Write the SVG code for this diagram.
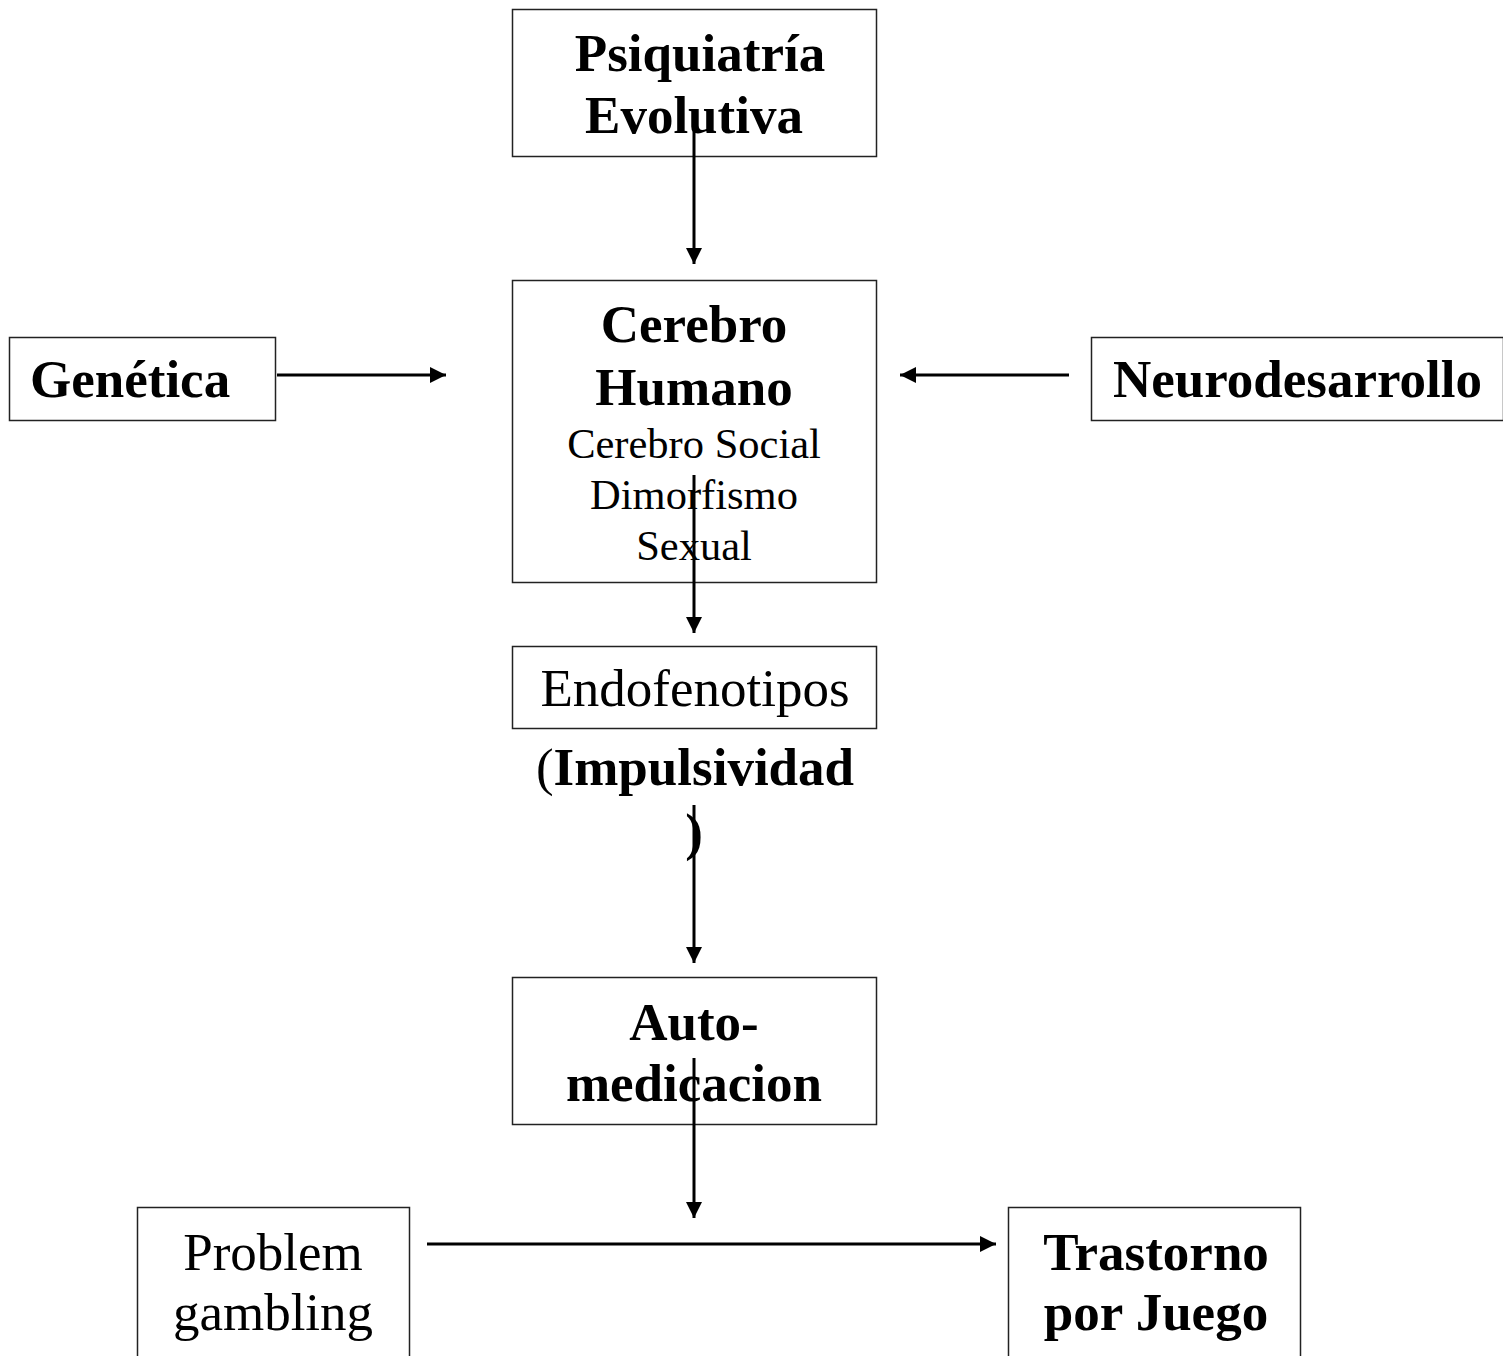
<svg xmlns="http://www.w3.org/2000/svg" width="1503" height="1356" viewBox="0 0 1503 1356">
<defs>
<marker id="ah" viewBox="0 0 16 16" refX="16" refY="8" markerWidth="16" markerHeight="16" markerUnits="userSpaceOnUse" orient="auto">
<path d="M0,0 L16,8 L0,16 Z" fill="#000"/>
</marker>
<style>
.box{fill:#fff;stroke:#222;stroke-width:1.5}
.t{font-family:"Liberation Serif","Times New Roman",serif;fill:#000;text-anchor:middle}
.b{font-weight:bold;font-size:53px}
.r{font-size:53px}
.s{font-size:42.5px}
.c{stroke:#000;stroke-width:3;fill:none;marker-end:url(#ah)}
</style>
</defs>
<rect width="1503" height="1356" fill="#fff"/>
<g id="psiquiatria">
<rect class="box" x="512.5" y="9.5" width="364" height="147"/>
<text class="t b" x="700" y="71">Psiquiatría</text>
<text class="t b" x="694" y="133">Evolutiva</text>
</g>
<g id="cerebro">
<rect class="box" x="512.5" y="280.5" width="364" height="302"/>
<text class="t b" x="694" y="342">Cerebro</text>
<text class="t b" x="694" y="405">Humano</text>
<text class="t s" x="694" y="458">Cerebro Social</text>
<text class="t s" x="694" y="509">Dimorfismo</text>
<text class="t s" x="694" y="560">Sexual</text>
</g>
<g id="genetica">
<rect class="box" x="9.5" y="337.5" width="266" height="83"/>
<text class="t b" x="30" y="397" style="text-anchor:start">Genética</text>
</g>
<g id="neurodesarrollo">
<rect class="box" x="1091.5" y="337.5" width="412" height="83"/>
<text class="t b" x="1113" y="397" style="text-anchor:start">Neurodesarrollo</text>
</g>
<g id="endofenotipos">
<rect class="box" x="512.5" y="646.5" width="364" height="82"/>
<text class="t r" x="695" y="706">Endofenotipos</text>
</g>
<g id="impulsividad">
<text class="t r" x="695" y="785">(<tspan font-weight="bold">Impulsividad</tspan></text>
<text class="t b" x="694" y="850">)</text>
</g>
<g id="automedicacion">
<rect class="box" x="512.5" y="977.5" width="364" height="147"/>
<text class="t b" x="694" y="1040">Auto-</text>
<text class="t b" x="694" y="1101">medicacion</text>
</g>
<g id="problem">
<rect class="box" x="137.5" y="1207.5" width="272" height="150"/>
<text class="t r" x="273" y="1270">Problem</text>
<text class="t r" x="273" y="1330">gambling</text>
</g>
<g id="trastorno">
<rect class="box" x="1008.5" y="1207.5" width="292" height="150"/>
<text class="t b" x="1156" y="1270">Trastorno</text>
<text class="t b" x="1156" y="1330">por Juego</text>
</g>
<g id="connectors">
<line class="c" x1="694" y1="120" x2="694" y2="264"/>
<line class="c" x1="694" y1="475" x2="694" y2="633"/>
<line class="c" x1="694" y1="805" x2="694" y2="963"/>
<line class="c" x1="694" y1="1058" x2="694" y2="1218"/>
<line class="c" x1="277" y1="375" x2="446" y2="375"/>
<line class="c" x1="1069" y1="375" x2="900" y2="375"/>
<line class="c" x1="427" y1="1244" x2="996" y2="1244"/>
</g>
</svg>
